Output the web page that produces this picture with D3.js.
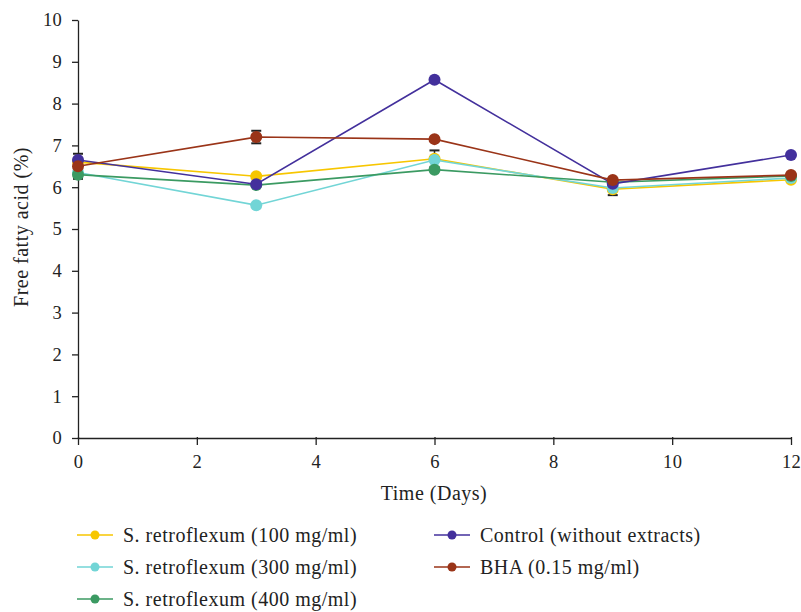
<!DOCTYPE html>
<html>
<head>
    <meta charset="utf-8">
    <title>free fatty acid</title>
    <style>
        body { margin: 0; background: #fff; }
        text { font-family: "Liberation Serif", "Times New Roman", serif; fill: #222; }
        .axis path, .axis line { stroke: #222; stroke-width: 1.3px; }
        .axis text { font-size: 18.5px; letter-spacing: 0.3px; }
        .lbl { font-size: 20px; letter-spacing: 0.5px; }
    </style>
</head>
<body>
<script src="https://cdn.jsdelivr.net/npm/d3@7"></script>
<script>
    // data
    var days = [0, 3, 6, 9, 12];
    var seriesNames = ["S. retroflexum (100 mg/ml)", "S. retroflexum (300 mg/ml)", "S. retroflexum (400 mg/ml)",
        "Control (without extracts)", "BHA (0.15 mg/ml)"];
    var sr100 = [6.6, 6.26, 6.68, 5.95, 6.18];
    var sr300 = [6.35, 5.57, 6.65, 5.98, 6.22];
    var sr400 = [6.3, 6.05, 6.42, 6.12, 6.27];
    var control = [6.65, 6.07, 8.57, 6.08, 6.77];
    var bha = [6.5, 7.2, 7.15, 6.17, 6.29];
    // error bars (only the visible ones)
    var sr100Err = [0, 0, 0.2, 0.14, 0];
    var bhaErr = [0.3, 0.15, 0, 0, 0];
    var noErr = [0, 0, 0, 0, 0];
    var xTicks = [0, 2, 4, 6, 8, 10, 12];
    var yTicks = [0, 1, 2, 3, 4, 5, 6, 7, 8, 9, 10];

    var colors = ["#f7c600", "#72d5d6", "#3b9a62", "#43309c", "#9a3418"];
    var values = [sr100, sr300, sr400, control, bha];
    var errs = [sr100Err, noErr, noErr, noErr, bhaErr];

    var series = seriesNames.map(function (n, i) {
        return {
            name: n, color: colors[i],
            pts: days.map(function (d, j) { return {x: d, y: values[i][j], e: errs[i][j]}; })
        };
    });

    var width = 801, height = 612;
    var margin = {left: 78, right: 10, top: 20, bottom: 174};

    var svg = d3.select("body").append("svg")
        .attr("width", width)
        .attr("height", height);

    var x = d3.scaleLinear().domain([0, 12]).range([margin.left, 791]);
    var y = d3.scaleLinear().domain([0, 10]).range([438, margin.top]);

    svg.append("g")
        .attr("class", "axis")
        .attr("transform", "translate(0," + y(0) + ")")
        .call(d3.axisBottom(x).tickValues(xTicks).tickSize(7).tickSizeOuter(0).tickPadding(10))
        .call(function (g) { g.selectAll(".tick line").attr("y1", -1).attr("y2", 7); });

    svg.append("g")
        .attr("class", "axis")
        .attr("transform", "translate(" + x(0) + ",0)")
        .call(d3.axisLeft(y).tickValues(yTicks).tickSize(6).tickSizeOuter(0).tickPadding(10));

    svg.append("text")
        .attr("class", "lbl")
        .attr("x", 434).attr("y", 500)
        .attr("text-anchor", "middle")
        .text("Time (Days)");

    svg.append("text")
        .attr("class", "lbl")
        .attr("transform", "translate(28,227) rotate(-90)")
        .attr("text-anchor", "middle")
        .text("Free fatty acid (%)");

    var line = d3.line()
        .x(function (d) { return x(d.x); })
        .y(function (d) { return y(d.y); });

    var g = svg.append("g");

    // error bars behind everything
    series.forEach(function (s) {
        s.pts.filter(function (p) { return p.e > 0; }).forEach(function (p) {
            var cx = x(p.x);
            g.append("line").attr("x1", cx).attr("x2", cx)
                .attr("y1", y(p.y - p.e)).attr("y2", y(p.y + p.e))
                .attr("stroke", "#222").attr("stroke-width", 1.5);
            [p.y - p.e, p.y + p.e].forEach(function (v) {
                g.append("line").attr("x1", cx - 5).attr("x2", cx + 5)
                    .attr("y1", y(v)).attr("y2", y(v))
                    .attr("stroke", "#222").attr("stroke-width", 2);
            });
        });
    });

    series.forEach(function (s) {
        g.append("path")
            .datum(s.pts)
            .attr("fill", "none")
            .attr("stroke", s.color)
            .attr("stroke-width", 1.6)
            .attr("d", line);
        g.selectAll(null)
            .data(s.pts)
            .enter().append("circle")
            .attr("cx", function (d) { return x(d.x); })
            .attr("cy", function (d) { return y(d.y); })
            .attr("r", 6)
            .attr("fill", s.color);
    });

    // legend
    var legendPos = [[77, 535], [77, 567], [77, 599], [434, 535], [434, 567]];
    series.forEach(function (s, i) {
        var lg = svg.append("g")
            .attr("transform", "translate(" + legendPos[i][0] + "," + legendPos[i][1] + ")");
        lg.append("line").attr("x1", 0).attr("x2", 36)
            .attr("stroke", s.color).attr("stroke-width", 1.6);
        lg.append("circle").attr("cx", 18).attr("r", 4.5).attr("fill", s.color);
        lg.append("text").attr("class", "lbl").attr("x", 46).attr("dy", "0.33em")
            .text(s.name);
    });
</script>
</body>
</html>
